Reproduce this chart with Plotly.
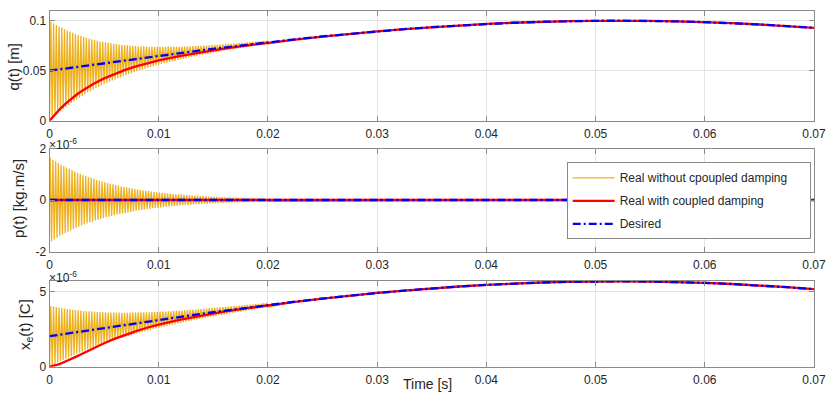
import plotly.graph_objects as go

# ---------------- data ----------------
# spacing between successive extrema of the undamped oscillation [s]
half_period = 0.000125

# q(t) [m] - real without coupled damping: successive troughs/peaks from t=0 to 0.02 s
q_osc = [0.0000, 0.0991, 0.0025, 0.0974, 0.0049, 0.0958, 0.0072, 0.0943, 0.0094, 0.0929,
         0.0116, 0.0915, 0.0137, 0.0902, 0.0157, 0.0890, 0.0176, 0.0879, 0.0195, 0.0868,
         0.0213, 0.0858, 0.0230, 0.0848, 0.0247, 0.0839, 0.0264, 0.0830, 0.0279, 0.0822,
         0.0295, 0.0815, 0.0309, 0.0808, 0.0324, 0.0801, 0.0338, 0.0795, 0.0351, 0.0789,
         0.0364, 0.0784, 0.0377, 0.0779, 0.0389, 0.0774, 0.0401, 0.0770, 0.0412, 0.0766,
         0.0424, 0.0762, 0.0435, 0.0759, 0.0445, 0.0756, 0.0455, 0.0753, 0.0465, 0.0751,
         0.0475, 0.0748, 0.0485, 0.0746, 0.0494, 0.0745, 0.0503, 0.0743, 0.0512, 0.0742,
         0.0520, 0.0741, 0.0528, 0.0740, 0.0537, 0.0739, 0.0544, 0.0739, 0.0552, 0.0738,
         0.0560, 0.0738, 0.0567, 0.0738, 0.0574, 0.0738, 0.0581, 0.0738, 0.0588, 0.0738,
         0.0595, 0.0739, 0.0601, 0.0739, 0.0608, 0.0740, 0.0614, 0.0741, 0.0620, 0.0742,
         0.0626, 0.0743, 0.0632, 0.0744, 0.0638, 0.0745, 0.0644, 0.0746, 0.0649, 0.0748,
         0.0655, 0.0749, 0.0660, 0.0751, 0.0666, 0.0752, 0.0671, 0.0754, 0.0676, 0.0756,
         0.0681, 0.0758, 0.0686, 0.0759, 0.0691, 0.0761, 0.0696, 0.0763, 0.0701, 0.0765,
         0.0705, 0.0767, 0.0710, 0.0769, 0.0715, 0.0771, 0.0719, 0.0773, 0.0723, 0.0776,
         0.0728, 0.0778, 0.0732, 0.0780, 0.0736, 0.0782, 0.0740, 0.0785, 0.0745, 0.0787,
         0.0749, 0.0789, 0.0753, 0.0792, 0.0757, 0.0794, 0.0760, 0.0796, 0.0764, 0.0799,
         0.0768]

# p(t) [x1e-6 kg.m/s] - real without coupled damping: start value then successive extrema
p_osc = [0.00,
         1.63, -1.60, 1.56, -1.53, 1.50, -1.47, 1.43, -1.40, 1.37, -1.34,
         1.32, -1.29, 1.26, -1.23, 1.21, -1.18, 1.16, -1.13, 1.11, -1.08,
         1.06, -1.04, 1.02, -0.99, 0.97, -0.95, 0.93, -0.91, 0.89, -0.87,
         0.86, -0.84, 0.82, -0.80, 0.78, -0.77, 0.75, -0.74, 0.72, -0.70,
         0.69, -0.67, 0.66, -0.65, 0.63, -0.62, 0.61, -0.59, 0.58, -0.57,
         0.56, -0.54, 0.53, -0.52, 0.51, -0.50, 0.49, -0.48, 0.47, -0.46,
         0.45, -0.44, 0.43, -0.42, 0.41, -0.40, 0.39, -0.39, 0.38, -0.37,
         0.36, -0.35, 0.35, -0.34, 0.33, -0.32, 0.32, -0.31, 0.30, -0.30,
         0.29, -0.29, 0.28, -0.27, 0.27, -0.26, 0.26, -0.25, 0.25, -0.24,
         0.23, -0.23, 0.22, -0.22, 0.22, -0.21, 0.21, -0.20, 0.20, -0.19,
         0.19, -0.19, 0.18, -0.18, 0.17, -0.17, 0.17, -0.16, 0.16, -0.16,
         0.15, -0.15, 0.15, -0.14, 0.14, -0.14, 0.13, -0.13, 0.13, -0.13,
         0.12, -0.12, 0.12, -0.12, 0.11, -0.11, 0.11, -0.11, 0.10, -0.10,
         0.10, -0.10, 0.10, -0.09, 0.09, -0.09, 0.09, -0.09, 0.08, -0.08,
         0.08, -0.08, 0.08, -0.07, 0.07, -0.07, 0.07, -0.07, 0.07, -0.07,
         0.06, -0.06, 0.06, -0.06, 0.06, -0.06, 0.06, -0.06, 0.05, -0.05,
         0.00]

# x_e(t) [x1e-6 C] - real without coupled damping: successive troughs/peaks from t=0 to 0.02 s
xe_osc = [0.00, 4.06, 0.10, 4.02, 0.19, 3.99, 0.28, 3.95, 0.37, 3.92,
          0.45, 3.89, 0.54, 3.86, 0.62, 3.84, 0.70, 3.81, 0.78, 3.79,
          0.86, 3.77, 0.93, 3.75, 1.00, 3.73, 1.08, 3.71, 1.15, 3.70,
          1.22, 3.69, 1.29, 3.67, 1.35, 3.66, 1.42, 3.65, 1.48, 3.64,
          1.54, 3.64, 1.61, 3.63, 1.67, 3.62, 1.73, 3.62, 1.79, 3.62,
          1.84, 3.62, 1.90, 3.61, 1.95, 3.61, 2.01, 3.61, 2.06, 3.61,
          2.11, 3.62, 2.17, 3.62, 2.22, 3.62, 2.27, 3.63, 2.32, 3.63,
          2.36, 3.64, 2.41, 3.64, 2.46, 3.65, 2.50, 3.66, 2.55, 3.67,
          2.59, 3.67, 2.64, 3.68, 2.68, 3.69, 2.72, 3.70, 2.77, 3.71,
          2.81, 3.72, 2.85, 3.74, 2.89, 3.75, 2.93, 3.76, 2.97, 3.77,
          3.01, 3.78, 3.05, 3.80, 3.08, 3.81, 3.12, 3.82, 3.16, 3.84,
          3.19, 3.85, 3.23, 3.87, 3.27, 3.88, 3.30, 3.90, 3.34, 3.91,
          3.37, 3.93, 3.40, 3.95, 3.44, 3.96, 3.47, 3.98, 3.50, 4.00,
          3.54, 4.01, 3.57, 4.03, 3.60, 4.05, 3.63, 4.06, 3.66, 4.08,
          3.69, 4.10, 3.72, 4.12, 3.75, 4.13, 3.78, 4.15, 3.81, 4.17,
          3.84, 4.19, 3.87, 4.20, 3.90, 4.22, 3.93, 4.24, 3.96, 4.26,
          3.98]

# desired trajectories
t_desired = [0, 0.001, 0.002, 0.003, 0.004, 0.005, 0.006, 0.007, 0.008, 0.009, 0.010,
             0.011, 0.012, 0.013, 0.014, 0.015, 0.016, 0.017, 0.018, 0.019, 0.020,
             0.0225, 0.025, 0.0275, 0.03, 0.0325, 0.035, 0.0375, 0.04, 0.0425, 0.045,
             0.0475, 0.05, 0.0525, 0.055, 0.0575, 0.06, 0.0625, 0.065, 0.0675, 0.07]
q_desired = [0.05000, 0.05151, 0.05302, 0.05453, 0.05603, 0.05752, 0.05901, 0.06049, 0.06197,
             0.06343, 0.06488, 0.06631, 0.06773, 0.06913, 0.07052, 0.07189, 0.07324, 0.07457,
             0.07587, 0.07715, 0.07841, 0.08142, 0.08428, 0.08693, 0.08936, 0.09157, 0.09354,
             0.09526, 0.09674, 0.09797, 0.09890, 0.09954, 0.09991, 0.09999, 0.09979, 0.09931,
             0.09855, 0.09752, 0.09622, 0.09463, 0.09283]
xe_desired = [2.040, 2.151, 2.262, 2.372, 2.482, 2.592, 2.702, 2.810, 2.918, 3.026, 3.132,
              3.237, 3.341, 3.444, 3.546, 3.647, 3.746, 3.843, 3.939, 4.033, 4.125, 4.346,
              4.556, 4.751, 4.929, 5.091, 5.236, 5.362, 5.471, 5.561, 5.629, 5.676, 5.703,
              5.709, 5.695, 5.659, 5.604, 5.528, 5.433, 5.316, 5.184]
t_flat = [0, 0.07]
p_desired = [0.0, 0.0]
p_red = [0.0, 0.0]

# real with coupled damping
t_red = [0, 0.00025, 0.0005, 0.00075, 0.001, 0.0015, 0.002, 0.0025, 0.003, 0.004, 0.005,
         0.006, 0.007, 0.008, 0.009, 0.01, 0.012, 0.014, 0.016, 0.018, 0.02, 0.0225, 0.025,
         0.0275, 0.03, 0.0325, 0.035, 0.0375, 0.04, 0.0425, 0.045, 0.0475, 0.05, 0.0525,
         0.055, 0.0575, 0.06, 0.0625, 0.065, 0.0675, 0.07]
q_red = [0, 0.00327, 0.00637, 0.00931, 0.01211, 0.01729, 0.02196, 0.02619, 0.03005, 0.03674,
         0.04232, 0.04703, 0.05105, 0.05453, 0.05756, 0.06026, 0.06486, 0.06874, 0.07213,
         0.07518, 0.07798, 0.08118, 0.08415, 0.08693, 0.08936, 0.09157, 0.09354, 0.09526,
         0.09674, 0.09797, 0.09890, 0.09954, 0.09991, 0.09999, 0.09979, 0.09931, 0.09855,
         0.09752, 0.09622, 0.09463, 0.09283]
xe_red = [0, 0.035, 0.081, 0.137, 0.202, 0.351, 0.516, 0.692, 0.871, 1.227, 1.564, 1.874,
          2.150, 2.398, 2.620, 2.817, 3.154, 3.437, 3.684, 3.904, 4.105, 4.337, 4.552, 4.751,
          4.929, 5.091, 5.236, 5.362, 5.471, 5.561, 5.629, 5.676, 5.703, 5.709, 5.695, 5.659,
          5.604, 5.528, 5.433, 5.316, 5.184]

x_ticks = [0, 0.01, 0.02, 0.03, 0.04, 0.05, 0.06, 0.07]
x_ticklabels = ["0", "0.01", "0.02", "0.03", "0.04", "0.05", "0.06", "0.07"]
legend_names = ["Real without cpoupled damping", "Real with coupled damping", "Desired"]

# ---------------- build ----------------
t_q_osc = [j * half_period for j in range(len(q_osc))]
t_p_osc = [0.0] + [(m + 0.5) * half_period for m in range(len(p_osc) - 2)] + [0.07]
t_xe_osc = [j * half_period for j in range(len(xe_osc))]
n_tail = 21  # desired samples beyond the oscillating part

W, H = 830, 395
YEL, RED, BLU = "#EDB120", "#FF0000", "#0000FF"
AX = "#8a8a8a"
TXT = "#262626"
FONT = "Liberation Sans, Arial, sans-serif"
NBSP = "\u00a0"

fig = go.Figure()

def add_panel(idx, ty, yy, tr, yr, td, yd):
    xa = "x" if idx == 1 else f"x{idx}"
    ya = "y" if idx == 1 else f"y{idx}"
    show = idx == 1
    fig.add_trace(go.Scatter(x=ty, y=yy, mode="lines", line=dict(color=YEL, width=1.3),
                             name=legend_names[0] + NBSP * 5, showlegend=show, legendgroup="a",
                             xaxis=xa, yaxis=ya))
    fig.add_trace(go.Scatter(x=tr, y=yr, mode="lines", line=dict(color=RED, width=2.3),
                             name=legend_names[1], showlegend=show, legendgroup="b",
                             xaxis=xa, yaxis=ya))
    fig.add_trace(go.Scatter(x=td, y=yd, mode="lines",
                             line=dict(color=BLU, width=2.3, dash="8px,3px,2px,3px"),
                             name=legend_names[2], showlegend=show, legendgroup="c",
                             xaxis=xa, yaxis=ya))

add_panel(1, t_q_osc + t_desired[n_tail:], q_osc + q_desired[n_tail:],
          t_red, q_red, t_desired, q_desired)
add_panel(2, t_p_osc, p_osc, t_flat, p_red, t_flat, p_desired)
add_panel(3, t_xe_osc + t_desired[n_tail:], xe_osc + xe_desired[n_tail:],
          t_red, xe_red, t_desired, xe_desired)

def py(p):
    return 1 - p / H

xdom = [49.5 / W, 814 / W]
ydoms = [[py(120.7), py(10.7)], [py(251.5), py(148.5)], [py(366.7), py(281)]]
yranges = [[0, 0.11], [-2, 2], [0, 5.73]]
yticks = [[0, 0.05, 0.1], [-2, 0, 2], [0, 5]]
yticktext = [["0", "0.05", "0.1"], ["-2", "0", "2"], ["0", "5"]]

common = dict(showline=True, linecolor=AX, linewidth=1, mirror="ticks", ticks="inside",
              ticklen=5, tickcolor=AX, showgrid=True, gridcolor="#e4e4e4", gridwidth=1,
              zeroline=False, automargin=False, tickfont=dict(family=FONT, size=12, color=TXT))

for i in range(3):
    sx = "" if i == 0 else str(i + 1)
    fig.layout["xaxis" + sx] = dict(common, domain=xdom, range=[0, 0.07], tickvals=x_ticks,
                                    ticktext=x_ticklabels, anchor="y" + sx, ticklabelstandoff=2)
    fig.layout["yaxis" + sx] = dict(common, domain=ydoms[i], range=yranges[i],
                                    tickvals=yticks[i], ticktext=yticktext[i], anchor="x" + sx)

ann = []
ylabels = [("q(t) [m]", 12.5, 67), ("p(t) [kg.m/s]", 18, 199), ("x<sub>e</sub>(t) [C]", 25, 325)]
for txt, xp, yp in ylabels:
    ann.append(dict(text=txt, x=xp / W, y=py(yp), xref="paper", yref="paper", showarrow=False,
                    textangle=-90, xanchor="center", yanchor="middle",
                    font=dict(family=FONT, size=15, color=TXT)))
for yp in (144.5, 276.5):
    ann.append(dict(text="\u00d710<sup>-6</sup>", x=47 / W, y=py(yp), xref="paper", yref="paper",
                    showarrow=False, xanchor="left", yanchor="middle",
                    font=dict(family=FONT, size=12, color=TXT)))
ann.append(dict(text="Time [s]", x=427.5 / W, y=py(383.5), xref="paper", yref="paper",
                showarrow=False, xanchor="center", yanchor="middle",
                font=dict(family=FONT, size=14, color=TXT)))

fig.update_layout(
    width=W, height=H, margin=dict(l=0, r=0, t=0, b=0, pad=0, autoexpand=False),
    paper_bgcolor="white", plot_bgcolor="white",
    annotations=ann,
    legend=dict(x=566.7 / W, y=py(162.3), xanchor="left", yanchor="top",
                bgcolor="white", bordercolor=AX, borderwidth=1,
                font=dict(family=FONT, size=12, color=TXT),
                tracegroupgap=4, itemwidth=42),
    showlegend=True,
)

fig.write_html("out.html", config={"displayModeBar": False},
               post_script="document.body.style.margin='0';document.body.style.overflow='hidden';")
